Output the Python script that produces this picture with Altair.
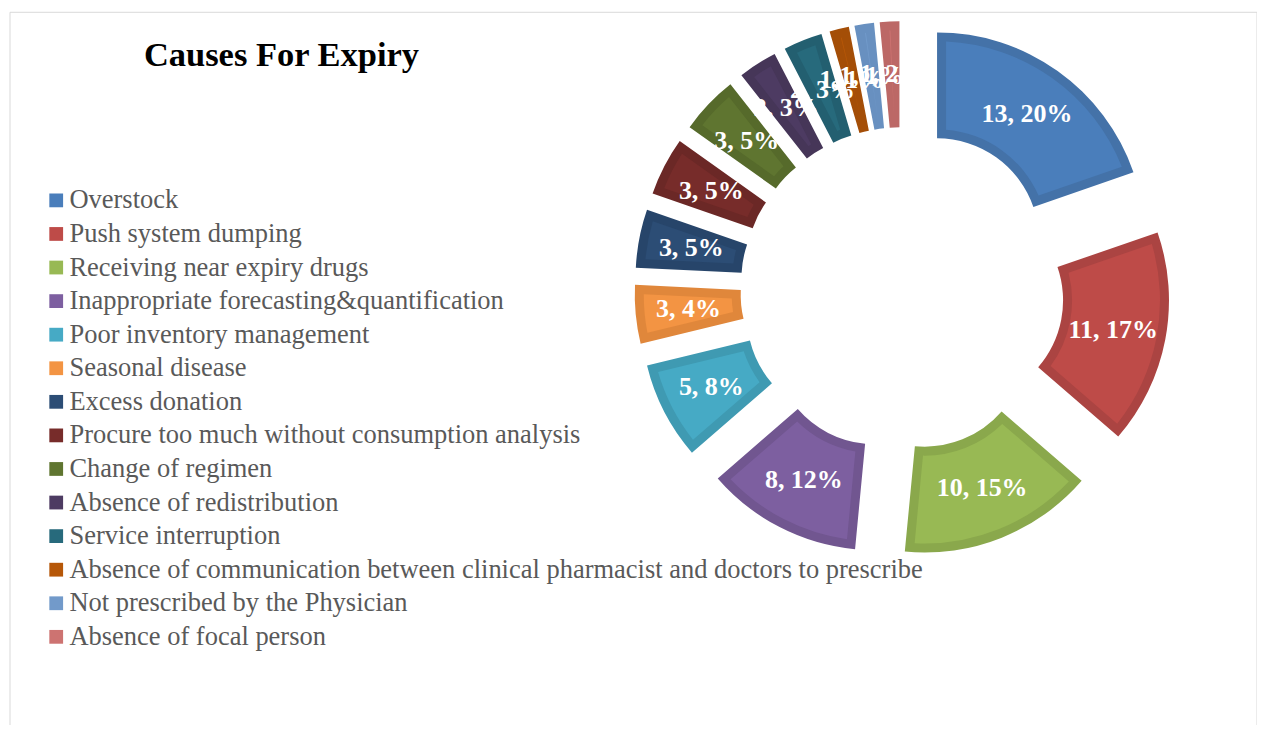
import altair as alt
import pandas as pd

causes = [
    "Overstock",
    "Push system dumping",
    "Receiving near expiry drugs",
    "Inappropriate forecasting&quantification",
    "Poor inventory management",
    "Seasonal disease",
    "Excess donation",
    "Procure too much without consumption analysis",
    "Change of regimen",
    "Absence of redistribution",
    "Service interruption",
    "Absence of communication between clinical pharmacist and doctors to prescribe",
    "Not prescribed by the Physician",
    "Absence of focal person",
]
counts = [13, 11, 10, 8, 5, 3, 3, 3, 3, 2, 2, 1, 1, 1]
percents = ["20%", "17%", "15%", "12%", "8%", "4%", "5%", "5%", "5%", "3%", "3%", "1%", "1%", "2%"]
fill_colors = [
    "#4A7EBB", "#BE4B48", "#98B954", "#7D5FA0", "#46AAC5", "#F39443", "#2C4D75",
    "#772C2A", "#5F7530", "#4D3B62", "#276A7C", "#B65708", "#729ACA", "#CD7371",
]
border_colors = [
    "#4472A8", "#AB4442", "#8AA84C", "#715690", "#3F9AB2", "#E0873B", "#27456A",
    "#6B2826", "#566A2B", "#463658", "#235F70", "#A44E07", "#6890C0", "#BC6866",
]
title_text = "Causes For Expiry"

df = pd.DataFrame({
    "cause": causes,
    "count": counts,
    "pct": percents,
    "idx": list(range(len(causes))),
    "border": border_colors,
})

CX, CY, EXPLODE, R_OUT, R_IN = 893, 277, 60, 208, 102
LABEL_R = (R_OUT + R_IN) / 2
BORDER = 9

base = (
    alt.Chart(df)
    .transform_window(cum="sum(count)", sort=[alt.SortField("idx")])
    .transform_joinaggregate(total="sum(count)")
    .transform_calculate(a1="2*PI*datum.cum/datum.total")
    .transform_calculate(a0="2*PI*(datum.cum-datum.count)/datum.total")
    .transform_calculate(mid="(datum.a0+datum.a1)/2")
    .transform_calculate(px=f"{CX}+{EXPLODE}*sin(datum.mid)")
    .transform_calculate(py=f"{CY}-{EXPLODE}*cos(datum.mid)")
    .transform_calculate(tx=f"datum.px+{LABEL_R}*sin(datum.mid)")
    .transform_calculate(ty=f"datum.py-{LABEL_R}*cos(datum.mid)")
    .transform_calculate(label="datum.count + ', ' + datum.pct")
)

pos = dict(
    x=alt.X("px:Q", scale=None, axis=None),
    y=alt.Y("py:Q", scale=None, axis=None),
    theta=alt.Theta("a0:Q", scale=None),
    theta2=alt.Theta2("a1"),
)

outer = base.mark_arc(radius=R_OUT, radius2=R_IN).encode(
    color=alt.Color("border:N", scale=None),
    **pos,
)

inner_r = ((R_OUT - BORDER) ** 2 + (R_IN + BORDER) ** 2) ** 0.5
inner = base.mark_arc(
    radius=R_OUT - BORDER, radius2=R_IN + BORDER, padAngle=2 * BORDER / inner_r
).encode(
    color=alt.Color(
        "cause:N",
        scale=alt.Scale(domain=causes, range=fill_colors),
        sort=causes,
        legend=alt.Legend(
            title=None,
            orient="none",
            legendX=33,
            legendY=175,
            symbolType="square",
            symbolSize=190,
            symbolStrokeWidth=0,
            labelFont="Liberation Serif",
            labelFontSize=26.5,
            labelColor="#595959",
            labelLimit=1200,
            labelOffset=0,
            rowPadding=6.6,
            padding=0,
        ),
    ),
    **pos,
)

labels = base.mark_text(
    font="Liberation Serif", fontSize=26, fontWeight="bold", color="white"
).encode(
    x=alt.X("tx:Q", scale=None, axis=None),
    y=alt.Y("ty:Q", scale=None, axis=None),
    text="label:N",
)

title = alt.Chart(pd.DataFrame({"t": [title_text]})).mark_text(
    font="Liberation Serif", fontSize=34.5, fontWeight="bold", color="black",
    align="left", baseline="middle",
).encode(x=alt.value(134), y=alt.value(44), text="t:N")

frame = alt.Chart(pd.DataFrame({"a": [0]})).mark_rect(
    filled=False, stroke="#D9D9D9", strokeWidth=1
).encode(x=alt.value(0), x2=alt.value(1248), y=alt.value(0), y2=alt.value(780))

chart = (
    alt.layer(frame, outer, inner, labels, title)
    .properties(
        width=1248,
        height=713,
        padding={"left": 2, "top": 4, "right": 0, "bottom": 0},
        autosize=alt.AutoSizeParams(type="none"),
    )
    .configure_view(strokeWidth=0)
)

chart.save("out.html", embed_options={"renderer": "svg", "actions": False})
